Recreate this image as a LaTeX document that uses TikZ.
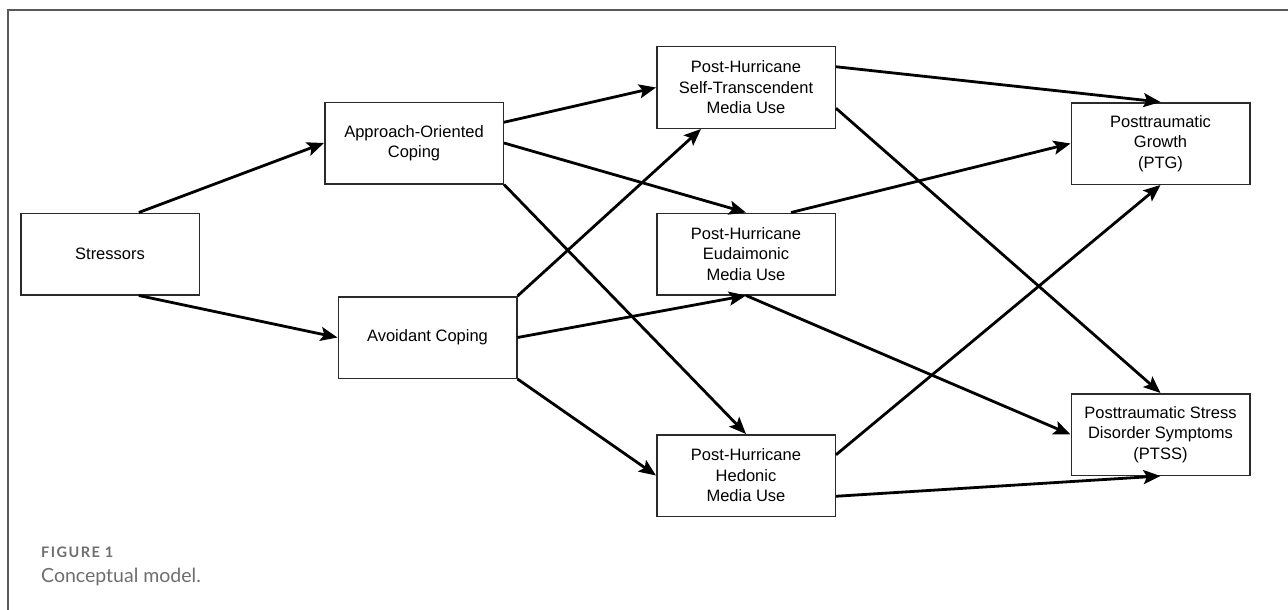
\documentclass[tikz,border=0pt]{standalone}
\usepackage{fontspec}
\setmainfont{Liberation Sans}
\newfontfamily\capfont{Lato}
\newfontfamily\capfontsp[LetterSpace=10]{Lato}
\usetikzlibrary{arrows.meta,calc}
\definecolor{framegray}{HTML}{5A5A5A}
\definecolor{capgray}{HTML}{6E6E6E}
\definecolor{boxline}{HTML}{2A2A2A}
\tikzset{
  box/.style={draw=boxline, line width=1.5pt, minimum width=178.5pt, minimum height=81.5pt,
    inner sep=0pt, align=center, font=\fontsize{16.5}{20.5}\selectfont},
  arr/.style={line width=2.8pt, -{Stealth[length=17pt,width=14pt,inset=3.5pt]}},
}
\begin{document}
\begin{tikzpicture}[x=1pt,y=-1pt]
\useasboundingbox (0,0) rectangle (1288,610);
\draw[framegray, line width=1.5pt] (8,610) -- (8,10) -- (1288,10);

\node[box] (str) at (110,254) {Stressors};
\node[box] (app) at (414,143) {Approach-Oriented\\Coping};
\node[box] (avo) at (427.5,337.5) {Avoidant Coping};
\node[box] (st) at (746,87.5) {Post-Hurricane\\Self-Transcendent\\Media Use};
\node[box] (eud) at (746,254) {Post-Hurricane\\Eudaimonic\\Media Use};
\node[box] (hed) at (746,475.5) {Post-Hurricane\\Hedonic\\Media Use};
\node[box] (ptg) at (1160.5,143.5) {Posttraumatic\\Growth\\(PTG)};
\node[box] (ptss) at (1160.5,434.5) {Posttraumatic Stress\\Disorder Symptoms\\(PTSS)};

% Stressors
\draw[arr] ($(str.north west)!0.66!(str.north east)$) -- (app.west);
\draw[arr] ($(str.south west)!0.66!(str.south east)$) -- (avo.west);
% Approach
\draw[arr] ($(app.north east)!0.25!(app.south east)$) -- (st.west);
\draw[arr] (app.east) -- (eud.north);
\draw[arr] (app.south east) -- (hed.north);
% Avoidant
\draw[arr] (avo.north east) -- ($(st.south west)!0.25!(st.south east)$);
\draw[arr] (avo.east) -- (eud.south);
\draw[arr] (avo.south east) -- (hed.west);
% Media use to outcomes
\draw[arr] ($(st.north east)!0.25!(st.south east)$) -- (ptg.north);
\draw[arr] ($(st.north east)!0.75!(st.south east)$) -- (ptss.north);
\draw[arr] ($(eud.north west)!0.75!(eud.north east)$) -- (ptg.west);
\draw[arr] (eud.south) -- (ptss.west);
\draw[arr] ($(hed.north east)!0.25!(hed.south east)$) -- (ptg.south);
\draw[arr] ($(hed.north east)!0.75!(hed.south east)$) -- (ptss.south);

% Caption
\node[anchor=base west, inner sep=0pt, text=capgray, font=\capfontsp\bfseries\fontsize{14.5}{16}\selectfont] (fig) at (41,557) {FIGURE 1};
\node[anchor=base west, inner sep=0pt, text=capgray, font=\capfont\fontsize{19.5}{22}\selectfont] (cap) at (41,582) {Conceptual model.};
\end{tikzpicture}
\end{document}
